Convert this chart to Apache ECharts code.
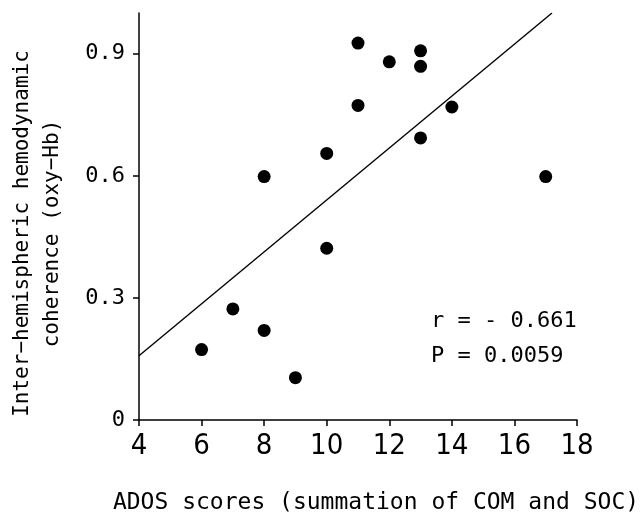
<!DOCTYPE html>
<html>
<head>
<meta charset="utf-8">
<script src="https://cdn.jsdelivr.net/npm/echarts@6/dist/echarts.min.js"></script>
<style>
  html, body { margin: 0; padding: 0; background: #fff; }
  #chart { width: 641px; height: 518px; }
</style>
</head>
<body>
<div id="chart"></div>
<script>
// ADOS score (x) against inter-hemispheric coherence (y)
var adosScores = [6, 7, 8, 8, 9, 10, 10, 11, 11, 12, 13, 13, 13, 14, 17]
var coherence = [0.173, 0.273, 0.220, 0.598, 0.104, 0.422, 0.655, 0.773, 0.926, 0.880, 0.907, 0.869, 0.693, 0.769, 0.598]
// regression line end points
var fitX = [4, 17.2]
var fitY = [0.158, 1.0]
var yTicks = [0, 0.3, 0.6, 0.9]
var statsText = ['r = - 0.661', 'P = 0.0059']

var font = '"DejaVu Sans Mono", "Liberation Mono", monospace'
var narrow = '"Liberation Sans Narrow", "DejaVu Sans Condensed", sans-serif'

var points = adosScores.map(function (x, i) { return [x, coherence[i]] })
var fitLine = fitX.map(function (x, i) { return [x, fitY[i]] })

var myChart = echarts.init(document.getElementById('chart'))
myChart.setOption({
  animation: false,
  backgroundColor: '#fff',
  grid: {
    left: 139,
    right: 64,
    top: 13,
    bottom: 98,
    outerBoundsMode: 'none'
  },
  xAxis: {
    type: 'value',
    min: 4,
    max: 18,
    interval: 2,
    splitLine: { show: false },
    axisLine: { lineStyle: { color: '#000', width: 1.5 } },
    axisTick: { length: 6, lineStyle: { color: '#000', width: 1.5 } },
    axisLabel: { color: '#000', fontSize: 29, fontFamily: narrow, margin: 12 },
    name: 'ADOS scores (summation of COM and SOC)',
    nameLocation: 'middle',
    nameGap: 72,
    nameTextStyle: { color: '#000', fontSize: 23, fontFamily: font, padding: [0, 0, 0, 36] }
  },
  yAxis: {
    type: 'value',
    min: 0,
    max: 1.0,
    splitLine: { show: false },
    axisLine: { show: true, lineStyle: { color: '#000', width: 1.5 } },
    axisTick: { show: true, length: 6, customValues: yTicks, lineStyle: { color: '#000', width: 1.5 } },
    axisLabel: { color: '#000', fontSize: 22, fontFamily: font, margin: 14, customValues: yTicks },
    name: 'Inter\u2212hemispheric hemodynamic\ncoherence (oxy\u2212Hb)',
    nameLocation: 'middle',
    nameGap: 71,
    nameTextStyle: { color: '#000', fontSize: 21, fontFamily: font, lineHeight: 30, padding: [0, 0, 0, -34] }
  },
  series: [
    {
      type: 'line',
      data: fitLine,
      symbol: 'none',
      lineStyle: { color: '#000', width: 1.4 },
      silent: true
    },
    {
      type: 'scatter',
      data: points,
      symbolSize: 13,
      itemStyle: { color: '#000', opacity: 1 }
    }
  ],
  graphic: [{
    type: 'text',
    left: 431,
    top: 304,
    style: {
      text: statsText.join('\n'),
      font: '22px ' + font,
      lineHeight: 35,
      fill: '#000'
    }
  }]
})
</script>
</body>
</html>
